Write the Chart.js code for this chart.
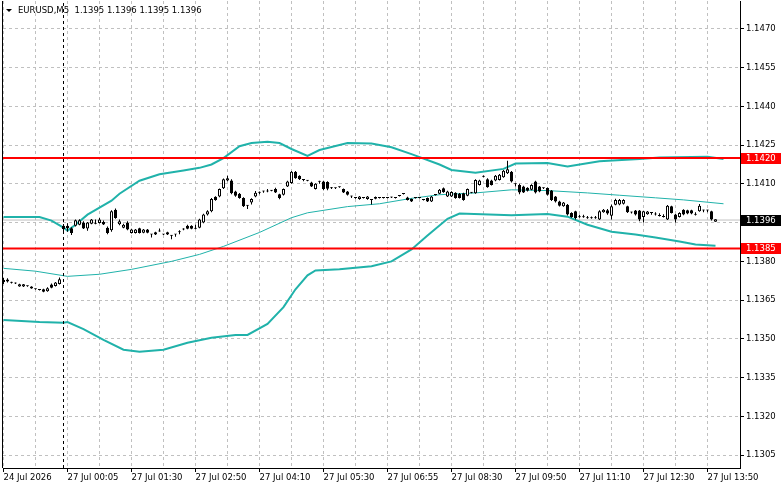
<!DOCTYPE html>
<html>
<head>
<meta charset="utf-8">
<script src="https://cdn.jsdelivr.net/npm/chart.js@4.4.1/dist/chart.umd.min.js"></script>
<style>
  html, body { margin: 0; padding: 0; background: #fff; }
  canvas { display: block; }
</style>
</head>
<body>
<canvas id="chart" width="781" height="489"></canvas>
<script>
// EURUSD M5 bars, index 0 = first visible bar (24 Jul), 15 = 27 Jul 00:00
const opens = [
  1.13720,1.13730,1.13718,1.13715,1.13703,1.13703,1.13705,1.13695,1.13693,1.13690,
  1.13692,1.13684,1.13710,1.13705,1.13712,1.13925,1.13938,1.13928,1.13938,1.13942,
  1.13950,1.13927,1.13946,1.13947,1.13949,1.13952,1.13930,1.13920,1.14000,1.13944,
  1.13930,1.13950,1.13910,1.13910,1.13928,1.13911,1.13923,1.13905,1.13913,1.13917,
  1.13905,1.13913,1.13900,1.13905,1.13913,1.13923,1.13938,1.13938,1.13926,1.13930,
  1.13950,1.13981,1.13994,1.14050,1.14051,1.14083,1.14113,1.14113,1.14070,1.14062,
  1.14045,1.14016,1.14028,1.14051,1.14066,1.14070,1.14070,1.14073,1.14080,1.14060,
  1.14058,1.14090,1.14103,1.14147,1.14131,1.14116,1.14113,1.14105,1.14080,1.14109,
  1.14109,1.14107,1.14084,1.14083,1.14087,1.14080,1.14070,1.14052,1.14045,1.14041,
  1.14046,1.14041,1.14039,1.14049,1.14045,1.14046,1.14045,1.14047,1.14046,1.14053,
  1.14061,1.14047,1.14041,1.14045,1.14046,1.14039,1.14045,1.14032,1.14057,1.14062,
  1.14083,1.14051,1.14051,1.14066,1.14062,1.14064,1.14054,1.14066,1.14064,1.14096,
  1.14128,1.14118,1.14113,1.14113,1.14115,1.14126,1.14141,1.14147,1.14100,1.14096,
  1.14090,1.14085,1.14077,1.14109,1.14090,1.14083,1.14084,1.14074,1.14051,1.14032,
  1.14013,1.14019,1.13987,1.13994,1.13972,1.13971,1.13968,1.13967,1.13968,1.13962,
  1.13990,1.13998,1.13977,1.14019,1.14020,1.14023,1.14013,1.13990,1.13997,1.13997,
  1.13972,1.13982,1.13988,1.13981,1.13977,1.13972,1.13962,1.14013,1.13981,1.13972,
  1.14000,1.13998,1.13998,1.13981,1.13994,1.13998,1.13997,1.13994,1.13953
];
const highs = [
  1.13736,1.13735,1.13721,1.13718,1.13713,1.13712,1.13707,1.13704,1.13695,1.13692,
  1.13694,1.13700,1.13714,1.13720,1.13738,1.13945,1.13948,1.13932,1.13962,1.13963,
  1.13955,1.13952,1.13964,1.13962,1.13968,1.13958,1.13935,1.13998,1.14005,1.13962,
  1.13946,1.13955,1.13926,1.13925,1.13930,1.13925,1.13925,1.13906,1.13915,1.13927,
  1.13906,1.13915,1.13902,1.13906,1.13920,1.13928,1.13942,1.13940,1.13942,1.13965,
  1.13984,1.13998,1.14045,1.14052,1.14082,1.14121,1.14131,1.14118,1.14073,1.14065,
  1.14048,1.14018,1.14044,1.14072,1.14070,1.14073,1.14080,1.14076,1.14085,1.14062,
  1.14082,1.14112,1.14150,1.14150,1.14133,1.14118,1.14115,1.14108,1.14102,1.14112,
  1.14112,1.14110,1.14088,1.14086,1.14090,1.14082,1.14072,1.14054,1.14048,1.14053,
  1.14048,1.14053,1.14041,1.14051,1.14047,1.14048,1.14047,1.14050,1.14048,1.14056,
  1.14064,1.14050,1.14043,1.14048,1.14048,1.14041,1.14047,1.14053,1.14060,1.14080,
  1.14086,1.14073,1.14071,1.14068,1.14065,1.14066,1.14082,1.14069,1.14118,1.14116,
  1.14132,1.14122,1.14116,1.14134,1.14138,1.14154,1.14190,1.14150,1.14102,1.14100,
  1.14093,1.14087,1.14099,1.14112,1.14092,1.14086,1.14086,1.14076,1.14053,1.14035,
  1.14030,1.14022,1.13990,1.13996,1.13980,1.13980,1.13976,1.13974,1.13976,1.13998,
  1.14003,1.14003,1.14020,1.14042,1.14041,1.14040,1.14015,1.13992,1.13999,1.13999,
  1.13996,1.13995,1.13990,1.13990,1.13986,1.13982,1.14018,1.14015,1.13983,1.13990,
  1.14002,1.14000,1.14000,1.13990,1.14022,1.14000,1.14000,1.13996,1.13963
];
const lows = [
  1.13712,1.13718,1.13714,1.13712,1.13702,1.13701,1.13702,1.13694,1.13690,1.13687,
  1.13680,1.13682,1.13696,1.13703,1.13710,1.13915,1.13915,1.13902,1.13935,1.13940,
  1.13925,1.13919,1.13944,1.13944,1.13947,1.13941,1.13905,1.13915,1.13965,1.13940,
  1.13928,1.13920,1.13908,1.13908,1.13908,1.13909,1.13909,1.13892,1.13902,1.13915,
  1.13902,1.13902,1.13886,1.13895,1.13905,1.13920,1.13924,1.13924,1.13924,1.13928,
  1.13948,1.13978,1.13990,1.14035,1.14048,1.14080,1.14110,1.14060,1.14050,1.14042,
  1.14010,1.14003,1.14020,1.14048,1.14060,1.14066,1.14068,1.14071,1.14065,1.14040,
  1.14055,1.14088,1.14100,1.14120,1.14115,1.14110,1.14110,1.14088,1.14078,1.14100,
  1.14075,1.14075,1.14080,1.14080,1.14085,1.14065,1.14055,1.14045,1.14042,1.14039,
  1.14043,1.14039,1.14020,1.14040,1.14043,1.14043,1.14043,1.14045,1.14043,1.14051,
  1.14059,1.14036,1.14030,1.14043,1.14043,1.14036,1.14030,1.14030,1.14055,1.14060,
  1.14066,1.14049,1.14049,1.14042,1.14043,1.14035,1.14052,1.14064,1.14062,1.14094,
  1.14126,1.14085,1.14094,1.14110,1.14113,1.14124,1.14138,1.14105,1.14090,1.14060,
  1.14065,1.14070,1.14075,1.14063,1.14068,1.14080,1.14055,1.14034,1.14028,1.14012,
  1.14011,1.13978,1.13969,1.13962,1.13969,1.13969,1.13965,1.13965,1.13965,1.13960,
  1.13988,1.13980,1.13962,1.14017,1.14017,1.14020,1.13987,1.13985,1.13978,1.13955,
  1.13950,1.13980,1.13980,1.13978,1.13974,1.13970,1.13960,1.13985,1.13950,1.13970,
  1.13979,1.13982,1.13982,1.13978,1.13992,1.13990,1.13990,1.13958,1.13953
];
const closes = [
  1.13728,1.13722,1.13717,1.13714,1.13711,1.13711,1.13704,1.13703,1.13692,1.13689,
  1.13682,1.13696,1.13698,1.13718,1.13731,1.13938,1.13928,1.13910,1.13959,1.13959,
  1.13927,1.13950,1.13962,1.13946,1.13962,1.13943,1.13910,1.13994,1.13968,1.13955,
  1.13942,1.13923,1.13923,1.13923,1.13910,1.13923,1.13911,1.13904,1.13904,1.13916,
  1.13904,1.13904,1.13899,1.13904,1.13914,1.13924,1.13926,1.13926,1.13927,1.13962,
  1.13981,1.13994,1.14041,1.14038,1.14080,1.14118,1.14122,1.14064,1.14054,1.14045,
  1.14013,1.14015,1.14041,1.14066,1.14067,1.14071,1.14071,1.14074,1.14067,1.14045,
  1.14080,1.14109,1.14147,1.14122,1.14118,1.14115,1.14112,1.14090,1.14100,1.14108,
  1.14080,1.14081,1.14083,1.14084,1.14088,1.14067,1.14058,1.14051,1.14046,1.14051,
  1.14045,1.14051,1.14038,1.14042,1.14046,1.14045,1.14046,1.14048,1.14045,1.14054,
  1.14062,1.14038,1.14032,1.14046,1.14045,1.14038,1.14032,1.14051,1.14058,1.14077,
  1.14068,1.14070,1.14069,1.14045,1.14045,1.14038,1.14080,1.14067,1.14115,1.14113,
  1.14129,1.14087,1.14096,1.14131,1.14135,1.14151,1.14157,1.14109,1.14099,1.14067,
  1.14067,1.14073,1.14096,1.14067,1.14070,1.14084,1.14058,1.14038,1.14032,1.14015,
  1.14028,1.13981,1.13972,1.13968,1.13971,1.13972,1.13967,1.13968,1.13967,1.13994,
  1.14000,1.13985,1.14013,1.14038,1.14038,1.14038,1.13990,1.13989,1.13981,1.13962,
  1.13994,1.13993,1.13987,1.13982,1.13976,1.13973,1.14015,1.13987,1.13962,1.13987,
  1.13981,1.13985,1.13985,1.13980,1.14015,1.13997,1.13998,1.13962,1.13963
];

// Bollinger bands (bar index, price)
const upperIdx = [0,9,12,15,16,18,21,27,29,34,39,45,49,52,55,59,62,66,69,72,76,79,86,92,97,102,109,112,118,125,128,136,141,149,159,164,176,180];
const upperVal = [1.13972,1.13972,1.13958,1.13931,1.13919,1.13942,1.13981,1.14035,1.14062,1.14112,1.14137,1.14152,1.14162,1.14175,1.14200,1.14246,1.14258,1.14263,1.14258,1.14235,1.14208,1.14231,1.14258,1.14256,1.14242,1.14215,1.14175,1.14154,1.14143,1.14158,1.14179,1.14181,1.14167,1.14188,1.14196,1.14202,1.14205,1.14196];
const midIdx = [0,8,16,24,32,42,49,55,64,72,76,86,94,102,109,118,127,136,146,154,163,170,180];
const midVal = [1.13773,1.13762,1.13742,1.13750,1.13769,1.13800,1.13827,1.13858,1.13912,1.13969,1.13988,1.14012,1.14023,1.14044,1.14058,1.14065,1.14077,1.14074,1.14065,1.14056,1.14046,1.14038,1.14023];
const lowerIdx = [0,9,15,16,20,25,30,34,40,46,52,58,61,66,70,73,76,78,84,92,97,102,106,111,114,127,136,141,146,152,158,163,169,173,178];
const lowerVal = [1.13573,1.13565,1.13562,1.13565,1.13538,1.13496,1.13458,1.13450,1.13458,1.13485,1.13504,1.13515,1.13515,1.13558,1.13623,1.13692,1.13746,1.13765,1.13769,1.13781,1.13800,1.13846,1.13900,1.13965,1.13985,1.13979,1.13983,1.13973,1.13942,1.13915,1.13904,1.13892,1.13877,1.13865,1.13860];

// axes
const gridIdx = [0,8,16,24,32,40,48,56,64,72,80,88,96,104,112,120,128,136,144,152,160,168,176];
const xTickIdx = [0,16,32,48,64,80,96,112,128,144,160,176];
const xTickLabels = ['24 Jul 2026','27 Jul 00:05','27 Jul 01:30','27 Jul 02:50','27 Jul 04:10','27 Jul 05:30',
                     '27 Jul 06:55','27 Jul 08:30','27 Jul 09:50','27 Jul 11:10','27 Jul 12:30','27 Jul 13:50'];
const yTicks = [1.1305,1.1320,1.1335,1.1350,1.1365,1.1380,1.1395,1.1410,1.1425,1.1440,1.1455,1.1470];

// levels
const redLevels = [1.1420, 1.1385];
const bidPrice = 1.1396;
const separatorIdx = 15;
const title = 'EURUSD,M5  1.1395 1.1396 1.1395 1.1396';

const X_MIN = -0.125, X_MAX = 184.125;
const Y_MIN = 1.1300, Y_MAX = 1.14808;
const FONT = { family: 'DejaVu Sans', size: 8.5 };
const TEAL = '#20b2aa';

const pts = (idx, vals) => idx.map((x, k) => ({ x: x, y: vals[k] }));
const hline = v => [{ x: X_MIN, y: v }, { x: X_MAX, y: v }];

const bodyData = opens.map((o, i) => ({ x: i, y: [Math.min(o, closes[i]), Math.max(o, closes[i])] }));
const wickData = lows.map((l, i) => ({ x: i, y: [l, highs[i]] }));
const bodyFill = opens.map((o, i) => closes[i] >= o ? '#ffffff' : '#000000');

// title, frame and price labels on the axis
const overlay = {
    id: 'overlay',
    afterDraw(chart) {
        const ctx = chart.ctx;
        const area = chart.chartArea;
        const ys = chart.scales.y;
        ctx.save();
        ctx.strokeStyle = '#000';
        ctx.lineWidth = 1;
        ctx.beginPath();
        ctx.moveTo(2.5, area.top);
        ctx.lineTo(2.5, area.bottom);
        ctx.stroke();

        ctx.fillStyle = '#000';
        ctx.beginPath();
        ctx.moveTo(6, 9);
        ctx.lineTo(12, 9);
        ctx.lineTo(9, 12);
        ctx.closePath();
        ctx.fill();
        ctx.font = FONT.size + 'px "' + FONT.family + '"';
        ctx.textBaseline = 'middle';
        ctx.textAlign = 'left';
        ctx.fillText(title, 18, 11);

        const boxes = [[redLevels[0], '#ff0000'], [redLevels[1], '#ff0000'], [bidPrice, '#000000']];
        boxes.forEach(([v, c]) => {
            const y = Math.round(ys.getPixelForValue(v));
            ctx.fillStyle = c;
            ctx.fillRect(area.right + 1, y - 5, 40, 11);
            ctx.fillStyle = '#ffffff';
            ctx.fillText(v.toFixed(4), area.right + 6, y + 0.5);
        });
        ctx.restore();
    }
};

new Chart(document.getElementById('chart'), {
    type: 'bar',
    data: {
        datasets: [
            { type: 'line', data: hline(redLevels[0]), borderColor: '#ff0000', borderWidth: 2, pointRadius: 0, order: 0 },
            { type: 'line', data: hline(redLevels[1]), borderColor: '#ff0000', borderWidth: 2, pointRadius: 0, order: 0 },
            { type: 'line', data: [{ x: separatorIdx, y: Y_MIN }, { x: separatorIdx, y: Y_MAX }],
              borderColor: '#000', borderWidth: 1, borderDash: [3, 3], pointRadius: 0, order: 1 },
            { type: 'bar', data: bodyData, backgroundColor: bodyFill, borderColor: '#000', borderWidth: 1,
              borderSkipped: false, barThickness: 3, minBarLength: 1, grouped: false, inflateAmount: 0, order: 2 },
            { type: 'bar', data: wickData, backgroundColor: '#000', borderWidth: 0,
              barThickness: 1, minBarLength: 1, grouped: false, inflateAmount: 0, order: 3 },
            { type: 'line', data: pts(upperIdx, upperVal), borderColor: TEAL, borderWidth: 2, pointRadius: 0, tension: 0, order: 4 },
            { type: 'line', data: pts(lowerIdx, lowerVal), borderColor: TEAL, borderWidth: 2, pointRadius: 0, tension: 0, order: 4 },
            { type: 'line', data: pts(midIdx, midVal), borderColor: TEAL, borderWidth: 1, pointRadius: 0, tension: 0, order: 4 },
            { type: 'line', data: hline(bidPrice), borderColor: '#c0c0c0', borderWidth: 1, pointRadius: 0, order: 5 }
        ]
    },
    options: {
        responsive: false,
        animation: false,
        devicePixelRatio: 1,
        layout: { padding: { left: 3, top: 1, right: 0, bottom: 0 } },
        plugins: { legend: { display: false }, tooltip: { enabled: false } },
        scales: {
            x: {
                type: 'linear', min: X_MIN, max: X_MAX, offset: false,
                afterBuildTicks: s => { s.ticks = gridIdx.map(v => ({ value: v })); },
                afterFit: s => { s.height = 21; s.paddingLeft = 0; s.paddingRight = 0; },
                grid: {
                    offset: false, color: '#c0c0c0', lineWidth: 1, tickLength: 4,
                    tickColor: c => (c.tick && xTickIdx.includes(c.tick.value)) ? '#000' : 'rgba(0,0,0,0)'
                },
                border: { display: true, color: '#000', width: 1, dash: [3, 3] },
                ticks: {
                    autoSkip: false, maxRotation: 0, minRotation: 0, align: 'start', padding: 1,
                    color: '#000', font: FONT,
                    callback: v => { const k = xTickIdx.indexOf(v); return k >= 0 ? xTickLabels[k] : ''; }
                }
            },
            y: {
                type: 'linear', position: 'right', min: Y_MIN, max: Y_MAX,
                afterBuildTicks: s => { s.ticks = yTicks.map(v => ({ value: v })); },
                afterFit: s => { s.width = 41; s.paddingTop = 0; s.paddingBottom = 0; },
                grid: { color: '#c0c0c0', lineWidth: 1, tickLength: 4, tickColor: '#000' },
                border: { display: true, color: '#000', width: 1, dash: [3, 3] },
                ticks: { padding: 2, color: '#000', font: FONT, callback: v => v.toFixed(4) }
            }
        }
    },
    plugins: [overlay]
});
</script>
</body>
</html>
